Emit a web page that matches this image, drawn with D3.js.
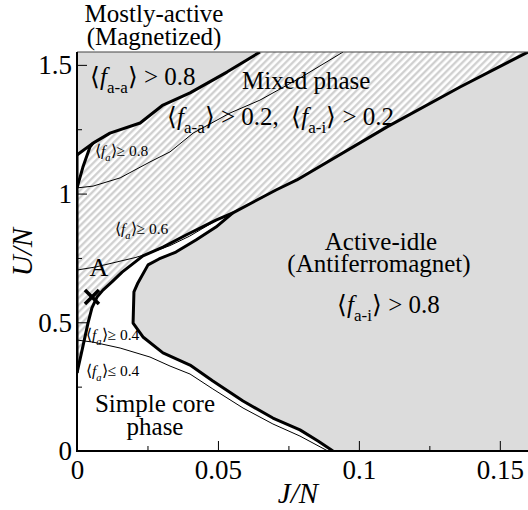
<!DOCTYPE html>
<html>
<head>
<meta charset="utf-8">
<script src="https://cdn.jsdelivr.net/npm/d3@7/dist/d3.min.js"></script>
<style>
  html, body { margin: 0; padding: 0; background: #fff; }
  svg { display: block; }
  text { font-family: "Liberation Serif", "Times New Roman", serif; fill: #000; }
</style>
</head>
<body>
<svg id="chart" width="528" height="510"></svg>
<script>
// ---------------- data (J/N, U/N) ----------------
const xMajorTicks = [0, 0.05, 0.1, 0.15];
const xMinorTicks = [0.025, 0.075, 0.125];
const yMajorTicks = [0, 0.5, 1, 1.5];
const yMinorTicks = [0.25, 0.75, 1.25];
const xTickLabels = ["0", "0.05", "0.1", "0.15"];
const yTickLabels = ["0", "0.5", "1", "1.5"];

// upper boundary of the mostly-active (magnetized) region
const boundaryMagnetized = [
  [0, 1.150], [0.0057, 1.196], [0.0117, 1.235], [0.0224, 1.274],
  [0.0305, 1.344], [0.0401, 1.391], [0.0532, 1.472], [0.0649, 1.55]
];
// short boundary near J=0 between U/N~1.02 and the magnetized line
const boundaryWedge = [
  [0, 1.022], [0.0021, 1.103], [0.0046, 1.181], [0.0057, 1.196]
];
// lower boundary of the mixed phase (from J=0, U/N=0.30)
const boundaryMixedLower = [
  [0, 0.303], [0.0018, 0.392], [0.0039, 0.497], [0.0053, 0.556],
  [0.0071, 0.598], [0.0092, 0.625], [0.0124, 0.657], [0.0160, 0.695],
  [0.0234, 0.758], [0.0305, 0.792], [0.0387, 0.839], [0.0493, 0.897],
  [0.0553, 0.925]
];
// boundary of the active-idle (antiferromagnet) region
const boundaryActiveIdle = [
  [0.16, 1.55], [0.1359, 1.414], [0.1100, 1.259], [0.0780, 1.053],
  [0.0706, 1.014], [0.0553, 0.925], [0.0493, 0.870], [0.0422, 0.820],
  [0.0351, 0.773], [0.0291, 0.746], [0.0252, 0.723], [0.0216, 0.653],
  [0.0202, 0.618], [0.0199, 0.497], [0.0234, 0.443], [0.0305, 0.381],
  [0.0401, 0.334], [0.0482, 0.272], [0.0589, 0.194], [0.0695, 0.128],
  [0.0791, 0.082], [0.0855, 0.039], [0.0908, 0]
];
// J=0 boundary segment
const boundaryAxis = [[0, 0.303], [0, 1.150]];

// thin contour lines of <f_a>
const contourFa08 = [
  [0, 1.022], [0.0057, 1.029], [0.0153, 1.061], [0.0259, 1.123],
  [0.0330, 1.162], [0.0412, 1.235], [0.0543, 1.313], [0.0649, 1.363],
  [0.0791, 1.449], [0.0944, 1.55]
];
const contourFa06 = [
  [0, 0.703], [0.0067, 0.715], [0.0209, 0.752], [0.0255, 0.768],
  [0.0330, 0.798], [0.0400, 0.835], [0.0493, 0.895], [0.0553, 0.925]
];
const contourFa04 = [
  [0, 0.431], [0.0057, 0.423], [0.0153, 0.400], [0.0259, 0.365],
  [0.0330, 0.330], [0.0401, 0.299], [0.0482, 0.241], [0.0589, 0.167],
  [0.0695, 0.105], [0.0791, 0.058], [0.0890, 0]
];
const pointA = [0.0053, 0.598];

// ---------------- chart ----------------
const svg = d3.select("#chart");
const x = d3.scaleLinear().domain([0, 0.16]).range([77, 528]);
const y = d3.scaleLinear().domain([0, 1.55]).range([451, 52]);
const line = d3.line().x(d => x(d[0])).y(d => y(d[1]));

const defs = svg.append("defs");
const pat = defs.append("pattern")
  .attr("id", "hatch").attr("patternUnits", "userSpaceOnUse")
  .attr("width", 5).attr("height", 5)
  .attr("patternTransform", "rotate(45)");
pat.append("rect").attr("width", 5).attr("height", 5).attr("fill", "#fff");
pat.append("line").attr("x1", 1.25).attr("y1", 0).attr("x2", 1.25).attr("y2", 5)
  .attr("stroke", "#cdcdcd").attr("stroke-width", 2.2);

defs.append("clipPath").attr("id", "plotclip").append("rect")
  .attr("x", x(0)).attr("y", y(1.55)).attr("width", x(0.16) - x(0)).attr("height", y(0) - y(1.55));

const plot = svg.append("g").attr("clip-path", "url(#plotclip)");

// gray magnetized region
const magPoly = [[0, 1.55]].concat(boundaryMagnetized);
plot.append("path").attr("d", line(magPoly) + "Z").attr("fill", "#dcdcdc");

// hatched mixed region
const mixedPoly = [[0, 0.303], [0, 1.022]]
  .concat(boundaryWedge.slice(1))
  .concat(boundaryMagnetized.slice(2))
  .concat([[0.16, 1.55]])
  .concat(boundaryActiveIdle.slice(1, 6))
  .concat(boundaryMixedLower.slice().reverse());
plot.append("path").attr("d", line(mixedPoly) + "Z").attr("fill", "url(#hatch)");

// gray active-idle region
const aiPoly = boundaryActiveIdle.concat([[0.16, 0]]);
plot.append("path").attr("d", line(aiPoly) + "Z").attr("fill", "#dcdcdc");

// thin contours
[contourFa08, contourFa06, contourFa04].forEach(c => {
  plot.append("path").attr("d", line(c)).attr("fill", "none")
    .attr("stroke", "#000").attr("stroke-width", 1);
});

// thick boundaries
[boundaryMagnetized, boundaryWedge, boundaryMixedLower, boundaryActiveIdle, boundaryAxis].forEach(b => {
  plot.append("path").attr("d", line(b)).attr("fill", "none")
    .attr("stroke", "#000").attr("stroke-width", 3).attr("stroke-linejoin", "round");
});

// ---------------- axes ----------------
const fmtX = d => xTickLabels[xMajorTicks.indexOf(d)];
const fmtY = d => yTickLabels[yMajorTicks.indexOf(d)];

const gx = svg.append("g").attr("transform", `translate(0,${y(0)})`)
  .call(d3.axisBottom(x).tickValues(xMajorTicks).tickFormat(fmtX)
    .tickSizeInner(-10).tickSizeOuter(0).tickPadding(9));
const gxm = svg.append("g").attr("transform", `translate(0,${y(0)})`)
  .call(d3.axisBottom(x).tickValues(xMinorTicks).tickFormat("")
    .tickSizeInner(-5).tickSizeOuter(0));
const gy = svg.append("g").attr("transform", `translate(${x(0)},0)`)
  .call(d3.axisLeft(y).tickValues(yMajorTicks).tickFormat(fmtY)
    .tickSizeInner(-10).tickSizeOuter(0).tickPadding(5));
const gym = svg.append("g").attr("transform", `translate(${x(0)},0)`)
  .call(d3.axisLeft(y).tickValues(yMinorTicks).tickFormat("")
    .tickSizeInner(-5).tickSizeOuter(0));

[gx, gxm, gy, gym].forEach(g => {
  g.select(".domain").remove();
  g.selectAll(".tick line").attr("stroke", "#000").attr("stroke-width", 1);
  g.selectAll(".tick text").attr("font-family", "Liberation Serif, serif")
    .attr("font-size", 27).attr("fill", "#000");
});
gy.selectAll(".tick text").attr("dy", "0.33em");

// frame
svg.append("line").attr("x1", x(0)).attr("x2", 528).attr("y1", y(1.55)).attr("y2", y(1.55))
  .attr("stroke", "#444").attr("stroke-width", 1.2);
svg.append("line").attr("x1", x(0)).attr("x2", x(0)).attr("y1", y(1.55)).attr("y2", y(0) + 1)
  .attr("stroke", "#000").attr("stroke-width", 2);
svg.append("line").attr("x1", x(0) - 1).attr("x2", 528).attr("y1", y(0)).attr("y2", y(0))
  .attr("stroke", "#000").attr("stroke-width", 2);

// axis titles
svg.append("text").attr("x", 298).attr("y", 503).attr("text-anchor", "middle")
  .attr("font-size", 29).attr("font-style", "italic").text("J/N");
svg.append("text").attr("transform", "translate(32,252) rotate(-90)").attr("text-anchor", "middle")
  .attr("font-size", 29).attr("font-style", "italic").text("U/N");

// ---------------- labels ----------------
function richText(px, py, size, parts, anchor) {
  const t = svg.append("text").attr("x", px).attr("y", py).attr("font-size", size)
    .attr("text-anchor", anchor || "start");
  let shift = 0;
  parts.forEach(p => {
    const s = t.append("tspan").text(p.t);
    let target = p.sub ? size * 0.3 : 0;
    if (target !== shift) { s.attr("dy", target - shift); shift = target; }
    if (p.sub) s.attr("font-size", size * 0.68);
    if (p.it) s.attr("font-style", "italic");
  });
  return t;
}
function twoLine(cx, py, size, gap, l1, l2, cx2) {
  const t = svg.append("text").attr("x", cx).attr("y", py).attr("font-size", size)
    .attr("text-anchor", "middle");
  t.append("tspan").attr("x", cx).text(l1);
  t.append("tspan").attr("x", cx2 == null ? cx : cx2).attr("dy", gap).text(l2);
  return t;
}
const L = "\u27E8", R = "\u27E9";

twoLine(154, 22, 25, 23, "Mostly-active", "(Magnetized)");

richText(90, 85, 25, [{t: L}, {t: "f", it: true}, {t: "a-a", sub: true}, {t: R + " > 0.8"}]);
svg.append("text").attr("x", 242).attr("y", 89).attr("font-size", 25).text("Mixed phase");
richText(167, 125, 25, [{t: L}, {t: "f", it: true}, {t: "a-a", sub: true}, {t: R + " > 0.2,\u2002" + L},
  {t: "f", it: true}, {t: "a-i", sub: true}, {t: R + " > 0.2"}]);

twoLine(381, 250, 25, 22, "Active-idle", "(Antiferromagnet)", 379);
richText(337, 313, 25, [{t: L}, {t: "f", it: true}, {t: "a-i", sub: true}, {t: R + " > 0.8"}]);

richText(95, 156, 15.5, [{t: L}, {t: "f", it: true}, {t: "a", sub: true, it: true}, {t: R + "\u2265 0.8"}]);
richText(115, 234, 15.5, [{t: L}, {t: "f", it: true}, {t: "a", sub: true, it: true}, {t: R + "\u2265 0.6"}]);
richText(86, 340, 15.5, [{t: L}, {t: "f", it: true}, {t: "a", sub: true, it: true}, {t: R + "\u2265 0.4"}]);
richText(86, 376, 15.5, [{t: L}, {t: "f", it: true}, {t: "a", sub: true, it: true}, {t: R + "\u2264 0.4"}]);

twoLine(155, 412, 25, 23, "Simple core", "phase");

svg.append("text").attr("x", 99).attr("y", 276).attr("text-anchor", "middle").attr("font-size", 26).text("A");

// cross marker at point A
const cx = x(pointA[0]), cy = y(pointA[1]), r = 7;
const mk = svg.append("g").attr("stroke", "#000").attr("stroke-width", 3.5);
mk.append("line").attr("x1", cx - r).attr("y1", cy - r).attr("x2", cx + r).attr("y2", cy + r);
mk.append("line").attr("x1", cx - r).attr("y1", cy + r).attr("x2", cx + r).attr("y2", cy - r);
</script>
</body>
</html>
